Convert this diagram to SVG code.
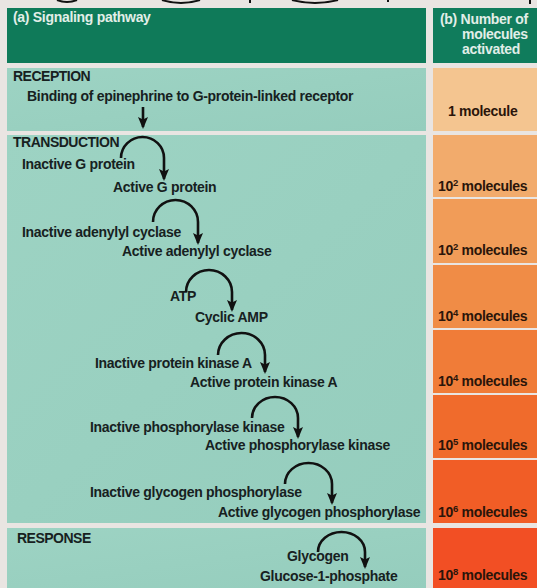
<svg xmlns="http://www.w3.org/2000/svg" width="537" height="588" viewBox="0 0 537 588">
<defs>
<marker id="ah" markerUnits="userSpaceOnUse" markerWidth="12" markerHeight="12" viewBox="0 0 12 10" refX="10" refY="5" orient="auto">
<path d="M0,0 L12,5 L0,10 L2.5,5 z" fill="#111"/>
</marker>
<linearGradient id="gl" x1="0" y1="0" x2="1" y2="1">
<stop offset="0" stop-color="#9dd3c3"/>
<stop offset="1" stop-color="#95cdbd"/>
</linearGradient>
</defs>
<style>
text{font-family:"Liberation Sans",Arial,sans-serif;font-weight:bold;font-size:14px;letter-spacing:-0.3px;fill:#17211f}
.hd{fill:#e2eee8}
.num{fill:#2a150a}
.sup{font-size:9.5px}
.cap{letter-spacing:-0.5px}
.arc{fill:none;stroke:#111;stroke-width:2.6;marker-end:url(#ah)}
</style>
<rect width="537" height="588" fill="#e9e5e2"/>
<g id="topfragments" fill="none" stroke="#111" stroke-width="2">
<path d="M57,0 Q67,4 77,0"/>
<path d="M162,0 Q181,6 200,0"/>
<path d="M250,0 L250,3"/>
<path d="M292,0 Q315,6 338,0"/>
<path d="M388,0 L388,2"/>
<path d="M530,0 L530,4"/>
</g>
<g id="header">
<rect x="7" y="8" width="419" height="55" fill="#0f7a59"/>
<rect x="433" y="8" width="104" height="55" fill="#107c5c"/>
<text class="hd" x="13" y="22">(a) Signaling pathway</text>
<text class="hd" x="440" y="24">(b) Number of</text>
<text class="hd" x="462" y="39">molecules</text>
<text class="hd" x="462" y="54">activated</text>
</g>
<g id="panels">
<rect x="7" y="68" width="419" height="63" fill="url(#gl)"/>
<rect x="7" y="135" width="419" height="388" fill="url(#gl)"/>
<rect x="7" y="528" width="419" height="60" fill="url(#gl)"/>
</g>
<g id="counts">
<rect x="433" y="68" width="104" height="63" fill="#f4c590"/>
<rect x="433" y="135" width="104" height="62" fill="#f2ab6c"/>
<rect x="433" y="199" width="104" height="64" fill="#f19c58"/>
<rect x="433" y="265" width="104" height="63" fill="#f08c46"/>
<rect x="433" y="330" width="104" height="63" fill="#f07c38"/>
<rect x="433" y="395" width="104" height="63" fill="#f06b2c"/>
<rect x="433" y="460" width="104" height="63" fill="#f15d26"/>
<rect x="433" y="528" width="104" height="60" fill="#f24f24"/>
<text class="num" x="448" y="116">1 molecule</text>
<text class="num" x="438" y="191">10<tspan class="sup" dy="-5">2</tspan><tspan dy="5"> molecules</tspan></text>
<text class="num" x="438" y="255">10<tspan class="sup" dy="-5">2</tspan><tspan dy="5"> molecules</tspan></text>
<text class="num" x="438" y="321">10<tspan class="sup" dy="-5">4</tspan><tspan dy="5"> molecules</tspan></text>
<text class="num" x="438" y="386">10<tspan class="sup" dy="-5">4</tspan><tspan dy="5"> molecules</tspan></text>
<text class="num" x="438" y="450">10<tspan class="sup" dy="-5">5</tspan><tspan dy="5"> molecules</tspan></text>
<text class="num" x="438" y="517">10<tspan class="sup" dy="-5">6</tspan><tspan dy="5"> molecules</tspan></text>
<text class="num" x="438" y="580">10<tspan class="sup" dy="-5">8</tspan><tspan dy="5"> molecules</tspan></text>
</g>
<g id="reception">
<text class="cap" x="13" y="81">RECEPTION</text>
<text x="27" y="101">Binding of epinephrine to G-protein-linked receptor</text>
</g>
<g id="transduction">
<text class="cap" x="13" y="147">TRANSDUCTION</text>
<text x="22" y="169">Inactive G protein</text>
<text x="113" y="192">Active G protein</text>
<text x="22" y="237">Inactive adenylyl cyclase</text>
<text x="122" y="256">Active adenylyl cyclase</text>
<text x="170" y="301">ATP</text>
<text x="195" y="322">Cyclic AMP</text>
<text x="95" y="368">Inactive protein kinase A</text>
<text x="190" y="387">Active protein kinase A</text>
<text x="90" y="432">Inactive phosphorylase kinase</text>
<text x="205" y="450">Active phosphorylase kinase</text>
<text x="90" y="497">Inactive glycogen phosphorylase</text>
<text x="218" y="517">Active glycogen phosphorylase</text>
</g>
<g id="response">
<text class="cap" x="17" y="543">RESPONSE</text>
<text x="287" y="561">Glycogen</text>
<text x="260" y="581">Glucose-1-phosphate</text>
</g>
<g id="connectors">
<path class="arc" d="M143,107 L143,127"/>
<path class="arc" d="M121,158 A21.5 21 0 0 1 164,158 L164,179"/>
<path class="arc" d="M153,222 A22.5 22 0 0 1 198,222 L198,243"/>
<path class="arc" d="M186,292 A23 22 0 0 1 232,292 L232,310"/>
<path class="arc" d="M218,355 A23.5 22 0 0 1 265,355 L265,372"/>
<path class="arc" d="M252,418 A23 21 0 0 1 298,418 L298,437"/>
<path class="arc" d="M285,484 A23.5 21 0 0 1 332,484 L332,503"/>
<path class="arc" d="M318,552 A23.5 20 0 0 1 365,552 L365,567"/>
</g>
</svg>
